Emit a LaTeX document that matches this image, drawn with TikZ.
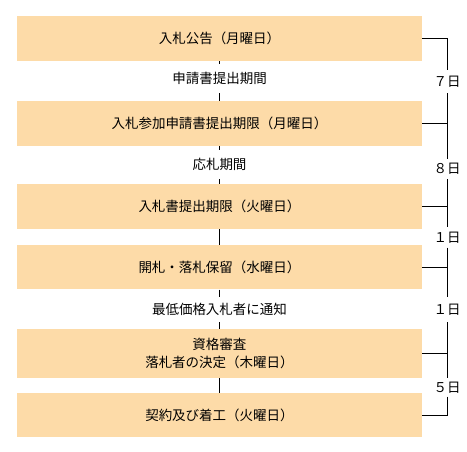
\documentclass[tikz,border=0pt]{standalone}
\usepackage{fontspec}
\setmainfont{Noto Sans CJK JP}
\definecolor{boxfill}{RGB}{253,219,168}
\begin{document}
\begin{tikzpicture}[x=1pt,y=-1pt,
  stage/.style={fill=boxfill,draw=none,minimum width=405pt,minimum height=45pt,inner sep=0pt,align=center,font=\fontsize{13.5pt}{17.5pt}\selectfont},
  midlbl/.style={inner sep=0pt,minimum height=25pt,font=\fontsize{13.5pt}{17.5pt}\selectfont},
  daylbl/.style={inner sep=0pt,minimum height=20pt,font=\fontsize{13.5pt}{17.5pt}\selectfont},
  conn/.style={line width=1pt,black}]
\useasboundingbox (0,0) rectangle (467,451);
% stages
\node[stage] (s1) at (219.5,38.5) {入札公告（月曜日）};
\node[stage] (s2) at (219.5,123.5) {入札参加申請書提出期限（月曜日）};
\node[stage] (s3) at (219.5,206.5) {入札書提出期限（火曜日）};
\node[stage,minimum height=44.5pt] (s4) at (219.5,267.2) {開札・落札保留（水曜日）};
\node[stage,minimum height=49pt] (s5) at (219.5,353.3) {資格審査\\落札者の決定（木曜日）};
\node[stage,minimum height=44.5pt] (s6) at (219.5,415.2) {契約及び着工（火曜日）};
% middle labels
\node[midlbl,minimum height=29pt] (m1) at (219.5,78.5) {申請書提出期間};
\node[midlbl,minimum height=29pt] (m2) at (219.5,164.5) {応札期間};
\node[midlbl] (m3) at (219.5,309.5) {最低価格入札者に通知};
% center line
\draw[conn] (s1.south) -- (m1.north);
\draw[conn] (m1.south) -- (s2.north);
\draw[conn] (s2.south) -- (m2.north);
\draw[conn] (m2.south) -- (s3.north);
\draw[conn] (s3.south) -- (s4.north);
\draw[conn] (s4.south) -- (m3.north);
\draw[conn] (m3.south) -- (s5.north);
\draw[conn] (s5.south) -- (s6.north);
% right bracket
\coordinate (t1) at (447,38.5);
\coordinate (t2) at (447,123.5);
\coordinate (t3) at (447,206.5);
\coordinate (t4) at (447,267.2);
\coordinate (t5) at (447,353);
\coordinate (t6) at (447,415.2);
\node[daylbl,minimum height=23pt] (d1) at (447,81.7) {７日};
\node[daylbl] (d2) at (447,169) {８日};
\node[daylbl] (d3) at (447,237.5) {１日};
\node[daylbl,minimum height=25pt] (d4) at (447,309.5) {１日};
\node[daylbl,minimum height=18pt] (d5) at (447,387.5) {５日};
\draw[conn] (s1.east |- t1) -- (t1) -- (d1.north);
\draw[conn] (d1.south) -- (d2.north);
\draw[conn] (s2.east |- t2) -- (t2);
\draw[conn] (d2.south) -- (d3.north);
\draw[conn] (s3.east |- t3) -- (t3);
\draw[conn] (d3.south) -- (d4.north);
\draw[conn] (s4.east |- t4) -- (t4);
\draw[conn] (d4.south) -- (d5.north);
\draw[conn] (s5.east |- t5) -- (t5);
\draw[conn] (d5.south) -- (t6) -- (s6.east |- t6);
\end{tikzpicture}
\end{document}
